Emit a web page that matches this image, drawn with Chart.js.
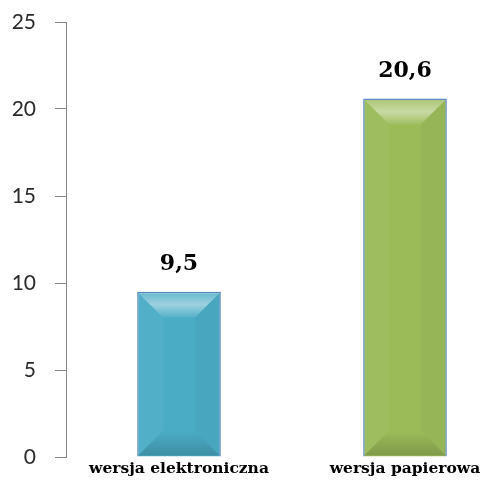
<!DOCTYPE html>
<html>
<head>
<meta charset="utf-8">
<script src="https://cdn.jsdelivr.net/npm/chart.js@4.4.0/dist/chart.umd.min.js"></script>
<style>
    html, body { margin: 0; padding: 0; background: #fff; overflow: hidden; }
    #wrap { width: 518px; height: 484px; }
</style>
</head>
<body>
<div id="wrap"><canvas id="wykres"></canvas></div>
<script>
// Dane
const kategorie = ["wersja elektroniczna", "wersja papierowa"];
const wartosci = [9.5, 20.6];
const kolory = ["#4bacc6", "#9bbb59"];
const etykietyOsi = [0, 5, 10, 15, 20, 25];

// fazowanie slupkow (efekt 3D jak w Excelu)
const fazowanie = {
    id: "fazowanie",
    afterDatasetsDraw(chart) {
        const ctx = chart.ctx;
        chart.getDatasetMeta(0).data.forEach(bar => {
            const l = bar.x - bar.width / 2, r = bar.x + bar.width / 2;
            const t = bar.y, b = bar.base;
            const d = Math.min(26, (b - t) / 2, bar.width / 2);
            ctx.save();
            // gora - jasna
            let g = ctx.createLinearGradient(0, t, 0, t + d);
            g.addColorStop(0, "rgba(255,255,255,0.15)");
            g.addColorStop(0.5, "rgba(255,255,255,0.45)");
            g.addColorStop(1, "rgba(255,255,255,0.05)");
            ctx.fillStyle = g;
            ctx.beginPath();
            ctx.moveTo(l + 1, t + 1); ctx.lineTo(r - 1, t + 1);
            ctx.lineTo(r - d, t + d); ctx.lineTo(l + d, t + d);
            ctx.closePath(); ctx.fill();
            // dol - ciemna
            g = ctx.createLinearGradient(0, b - d, 0, b);
            g.addColorStop(0, "rgba(0,0,0,0.0)");
            g.addColorStop(1, "rgba(0,0,0,0.18)");
            ctx.fillStyle = g;
            ctx.beginPath();
            ctx.moveTo(l + 1, b - 1); ctx.lineTo(r - 1, b - 1);
            ctx.lineTo(r - d, b - d); ctx.lineTo(l + d, b - d);
            ctx.closePath(); ctx.fill();
            // boki - delikatnie
            ctx.fillStyle = "rgba(255,255,255,0.04)";
            ctx.beginPath();
            ctx.moveTo(l + 1, t + 1); ctx.lineTo(l + d, t + d);
            ctx.lineTo(l + d, b - d); ctx.lineTo(l + 1, b - 1);
            ctx.closePath(); ctx.fill();
            ctx.fillStyle = "rgba(0,0,0,0.03)";
            ctx.beginPath();
            ctx.moveTo(r - 1, t + 1); ctx.lineTo(r - d, t + d);
            ctx.lineTo(r - d, b - d); ctx.lineTo(r - 1, b - 1);
            ctx.closePath(); ctx.fill();
            ctx.restore();
        });
    }
};

// wartosci nad slupkami
const etykiety = {
    id: "etykiety",
    afterDatasetsDraw(chart) {
        const ctx = chart.ctx;
        ctx.save();
        ctx.font = "bold 22px 'DejaVu Serif'";
        ctx.fillStyle = "#000";
        ctx.textAlign = "center";
        ctx.textBaseline = "bottom";
        chart.getDatasetMeta(0).data.forEach((bar, i) => {
            ctx.fillText(String(wartosci[i]).replace(".", ","), bar.x, bar.y - 16);
        });
        ctx.restore();
    }
};

new Chart(document.getElementById("wykres"), {
    type: "bar",
    data: {
        labels: kategorie,
        datasets: [{
            data: wartosci,
            backgroundColor: kolory,
            borderColor: "#4f81bd",
            borderWidth: 1.5,
            barPercentage: 0.37,
            categoryPercentage: 1
        }]
    },
    options: {
        responsive: true,
        maintainAspectRatio: false,
        animation: false,
        layout: { padding: { top: 22, left: 0, right: 0, bottom: 0 } },
        plugins: { legend: { display: false }, tooltip: { enabled: false } },
        scales: {
            x: {
                grid: { display: false, drawTicks: false },
                border: { display: false },
                ticks: {
                    color: "#000",
                    padding: 3,
                    font: { family: "'DejaVu Serif'", size: 15.5, weight: "bold" }
                },
                afterFit(s) { s.height = 27; }
            },
            y: {
                min: 0,
                max: 25,
                afterBuildTicks(s) { s.ticks = etykietyOsi.map(v => ({ value: v })); },
                grid: { drawOnChartArea: false, tickLength: 11, color: "#868686" },
                border: { color: "#868686", width: 1 },
                ticks: {
                    color: "#2a2a2a",
                    padding: 19,
                    font: { family: "Lato", size: 21 }
                },
                afterFit(s) {
                    s.width = 66;
                    s.paddingTop = 0;
                    s.paddingBottom = 0;
                }
            }
        }
    },
    plugins: [fazowanie, etykiety]
});
</script>
</body>
</html>
